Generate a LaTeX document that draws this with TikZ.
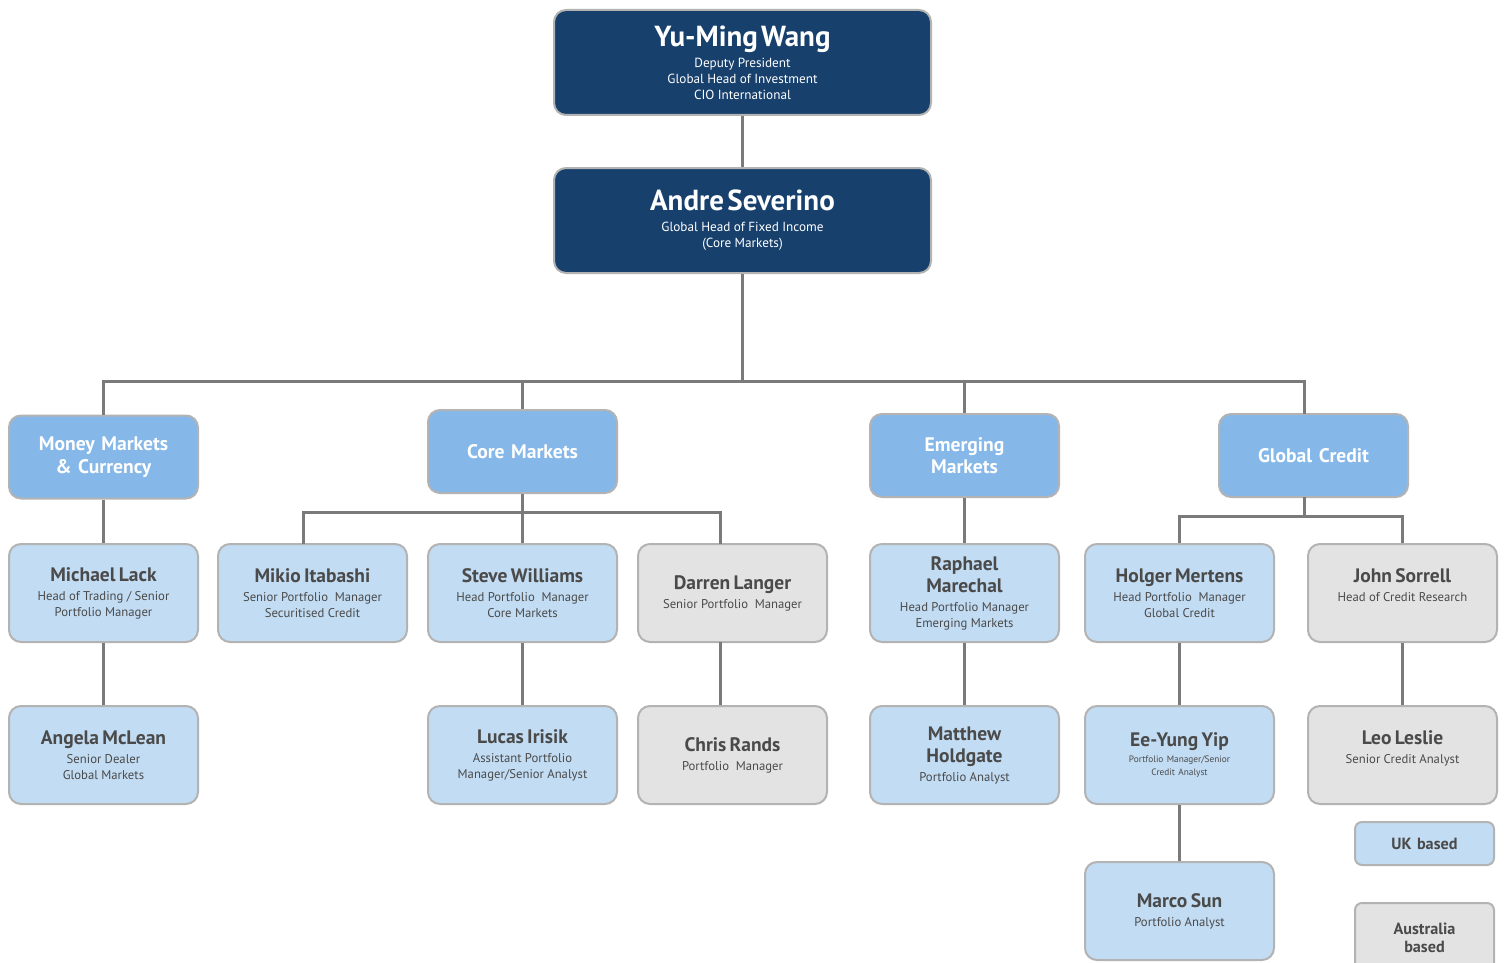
\documentclass[tikz,border=0pt]{standalone}
\usepackage{fontspec}
\setmainfont{PT Sans}
\definecolor{navy}{HTML}{17406D}
\definecolor{midblue}{HTML}{85B8E8}
\definecolor{paleblue}{HTML}{C2DCF3}
\definecolor{palegrey}{HTML}{E3E3E3}
\definecolor{rim}{HTML}{B3B3B3}
\definecolor{wire}{HTML}{7A7A7A}
\definecolor{ink}{HTML}{4A4A4A}
\newcommand{\namefont}{\fontsize{19.5}{22}\selectfont\bfseries}
\newcommand{\rolefont}{\fontsize{12.7}{16}\selectfont\mdseries}
% name, then role lines
\newcommand{\person}[2]{{\namefont #1\par\vspace{3pt}\rolefont #2\par}}
\newcommand{\chief}[2]{{\fontsize{29}{32}\selectfont\bfseries #1\par\vspace{5pt}%
		\fontsize{13.2}{16}\selectfont\mdseries #2\par}}
\begin{document}
\begin{tikzpicture}[x=1pt, y=-1pt,
		box/.style={draw=rim, line width=2pt, rounded corners=12pt, align=center,
				minimum width=189pt, text width=185pt, minimum height=98pt, inner sep=1pt, text=ink},
		boss/.style={box, fill=navy, text=white, minimum width=377pt, text width=373pt, minimum height=105pt},
		desk/.style={box, fill=midblue, text=white, minimum height=83pt,
				font=\fontsize{19.6}{22.5}\selectfont\bfseries},
		london/.style={box, fill=paleblue},
		sydney/.style={box, fill=palegrey},
		keybox/.style={minimum width=139pt, text width=135pt, rounded corners=7pt,
				font=\fontsize{16.2}{18.5}\selectfont\bfseries},
		link/.style={draw=wire, line width=3pt}]
	\useasboundingbox (0,0) rectangle (1507,963);

	% top of the tree
	\node[boss] (wang) at (742.5,62.5) {\chief{Yu-Ming Wang}{Deputy President\\Global Head of Investment\\CIO International}};
	\node[boss] (severino) at (742.5,220.5) {\chief{Andre Severino}{Global Head of Fixed Income\\(Core Markets)}};

	% desks
	\node[desk] (money) at (103.5,457) {Money Markets\\\& Currency};
	\node[desk] (core) at (522.5,451.5) {Core Markets};
	\node[desk] (emerging) at (964.5,455.5) {Emerging\\Markets};
	\node[desk] (credit) at (1313.5,455.5) {Global Credit};

	% second row
	\node[london] (lack) at (103.5,593) {\person{Michael Lack}{Head of Trading / Senior\\Portfolio Manager}};
	\node[london] (itabashi) at (312.5,593) {\person{Mikio Itabashi}{Senior Portfolio\ \ Manager\\Securitised Credit}};
	\node[london] (williams) at (522.5,593) {\person{Steve Williams}{Head Portfolio\ \ Manager\\Core Markets}};
	\node[sydney] (langer) at (732.5,593) {\person{Darren Langer}{Senior Portfolio\ \ Manager}};
	\node[london] (marechal) at (964.5,593) {\person{Raphael\\Marechal}{Head Portfolio Manager\\Emerging Markets}};
	\node[london] (mertens) at (1179.5,593) {\person{Holger Mertens}{Head Portfolio\ \ Manager\\Global Credit}};
	\node[sydney] (sorrell) at (1402.5,593) {\person{John Sorrell}{Head of Credit Research\\\mbox{}}};

	% third row
	\node[london] (mclean) at (103.5,755) {\person{Angela McLean}{Senior Dealer\\Global Markets}};
	\node[london] (irisik) at (522.5,755) {\person{Lucas Irisik}{Assistant Portfolio\\Manager/Senior Analyst}};
	\node[sydney] (rands) at (732.5,755) {\person{Chris Rands}{Portfolio\ \ Manager}};
	\node[london] (holdgate) at (964.5,755) {\person{Matthew\\Holdgate}{Portfolio Analyst}};
	\node[london] (yip) at (1179.5,755) {\person{Ee-Yung Yip}{\fontsize{9.3}{13}\selectfont Portfolio Manager/Senior\\Credit Analyst}};
	\node[sydney] (leslie) at (1402.5,755) {\person{Leo Leslie}{Senior Credit Analyst\\\mbox{}}};
	\node[london] (sun) at (1179.5,911) {\person{Marco Sun}{Portfolio Analyst}};

	% key
	\node[london, keybox, minimum height=43pt] (ukkey) at (1424.5,843.5) {UK based};
	\node[sydney, keybox, minimum height=70pt] (auskey) at (1424.5,938) {Australia\\based};

	% connectors
	\coordinate (bus) at (742.5,381);
	\coordinate (creditin) at (1304,414);
	\coordinate (corebus) at (522.5,512);
	\coordinate (creditbus) at (1304,516);
	\coordinate (itabashiin) at (303,544);
	\coordinate (langerin) at (720,544);
	\coordinate (langerout) at (720,642);
	\coordinate (creditout) at (1304,497);
	\draw[link] (wang) -- (severino);
	\draw[link] (severino) -- (bus);
	\draw[link] (money.north) |- (bus) -| (creditin);
	\draw[link] (core.north) -- (core.north |- bus);
	\draw[link] (emerging.north) -- (emerging.north |- bus);
	\draw[link] (money) -- (lack);
	\draw[link] (lack) -- (mclean);
	\draw[link] (core) -- (williams);
	\draw[link] (itabashiin) |- (corebus) -| (langerin);
	\draw[link] (williams) -- (irisik);
	\draw[link] (langerout) -- (langerout |- rands.north);
	\draw[link] (emerging) -- (marechal);
	\draw[link] (marechal) -- (holdgate);
	\draw[link] (creditout) -- (creditbus);
	\draw[link] (mertens.north) |- (creditbus) -| (sorrell.north);
	\draw[link] (mertens) -- (yip);
	\draw[link] (yip) -- (sun);
	\draw[link] (sorrell) -- (leslie);
\end{tikzpicture}
\end{document}
